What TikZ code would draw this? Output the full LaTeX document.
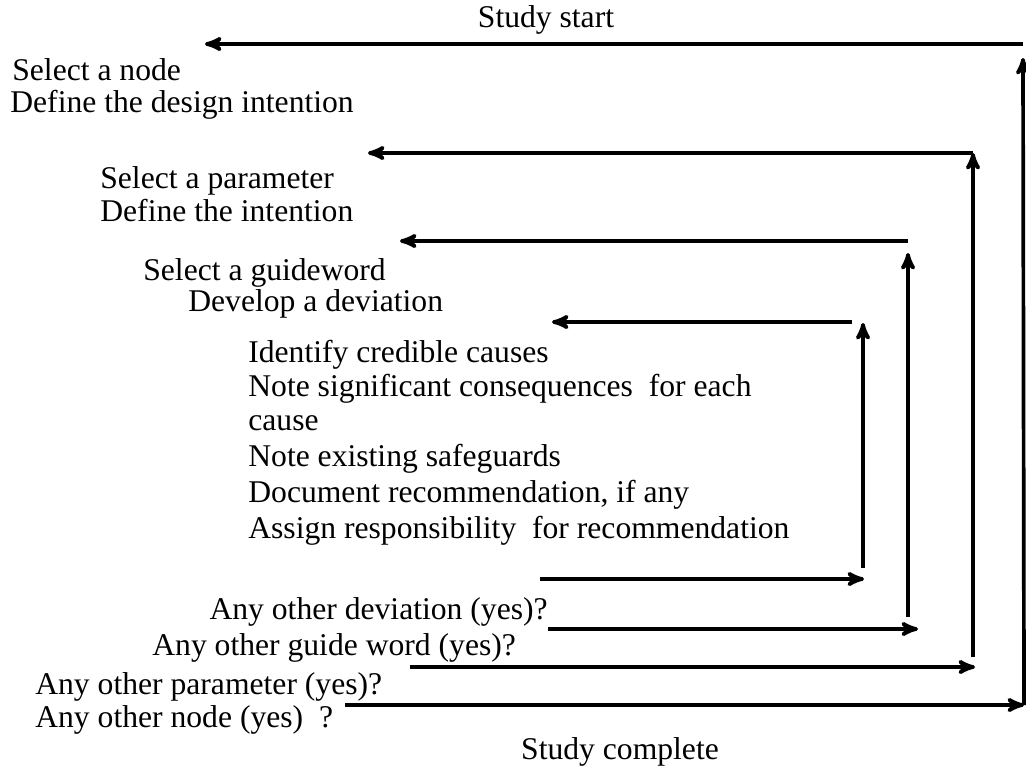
\documentclass[tikz,border=0pt]{standalone}
\usepackage{fontspec}
\setmainfont{Liberation Serif}
\usetikzlibrary{arrows}
\tikzstyle{label} = [inner sep=0pt, text height=0.7em, text depth=0.22em, font=\fontsize{18}{22}\selectfont]
\tikzstyle{item} = [label, anchor=west]
\tikzstyle{arrow} = [line width=2.1pt,->,>=stealth']

\begin{document}
\begin{tikzpicture}[x=0.02cm, y=-0.02cm]
\useasboundingbox (0,0) rectangle (1026,768);
% texts
\node (start) [label] at (546,23) {Study start};
\node (node1) [item] at (12,76) {Select a node};
\node (node2) [item] at (10,108) {Define the design intention};
\node (par1) [item] at (100,184) {Select a parameter};
\node (par2) [item] at (100,217) {Define the intention};
\node (gw1) [item] at (143,276) {Select a guideword};
\node (gw2) [item] at (188,307) {Develop a deviation};
\node (cause1) [item] at (248,358) {Identify credible causes};
\node (cause2) [item] at (248,392) {Note significant consequences\ \ for each};
\node (cause3) [item] at (248,426) {cause};
\node (guard) [item] at (248,462) {Note existing safeguards};
\node (recom) [item] at (248,498) {Document recommendation, if any};
\node (resp) [item] at (248,534) {Assign responsibility\ \ for recommendation};
\node (qdev) [label, anchor=east] at (548,615) {Any other deviation (yes)?};
\node (qgw) [item] at (152,651) {Any other guide word (yes)?};
\node (qpar) [item] at (35,690) {Any other parameter\ (yes)?};
\node (qnode) [item] at (35,723) {Any other node (yes)\ \ ?};
\node (done) [label] at (620,755) {Study complete};

% corners
\coordinate (a1) at (345,705); \coordinate (a2) at (1024,705);
\coordinate (a3) at (1023,58);  \coordinate (a4) at (1023,44);
\coordinate (a5) at (205,44);
\coordinate (b1) at (410,667); \coordinate (b2) at (975,667);
\coordinate (b3) at (973,657); \coordinate (b4) at (973,153);
\coordinate (b5) at (368,153);
\coordinate (c1) at (548,629); \coordinate (c2) at (918,629);
\coordinate (c3) at (908,617); \coordinate (c4) at (908,253);
\coordinate (c5) at (908,241); \coordinate (c6) at (400,241);
\coordinate (d1) at (540,579); \coordinate (d2) at (864,579);
\coordinate (d3) at (863,568); \coordinate (d4) at (863,323);
\coordinate (d5) at (852,322); \coordinate (d6) at (552,322);

% node loop
\draw[arrow] (a1) -- (a2);
\draw[arrow] (a2) -- (a3);
\draw[arrow] (a4) -- (a5);
% parameter loop
\draw[arrow] (b1) -- (b2);
\draw[arrow] (b3) -- (b4);
\draw[arrow] (b4) -- (b5);
% guideword loop
\draw[arrow] (c1) -- (c2);
\draw[arrow] (c3) -- (c4);
\draw[arrow] (c5) -- (c6);
% deviation loop
\draw[arrow] (d1) -- (d2);
\draw[arrow] (d3) -- (d4);
\draw[arrow] (d5) -- (d6);
\end{tikzpicture}
\end{document}
